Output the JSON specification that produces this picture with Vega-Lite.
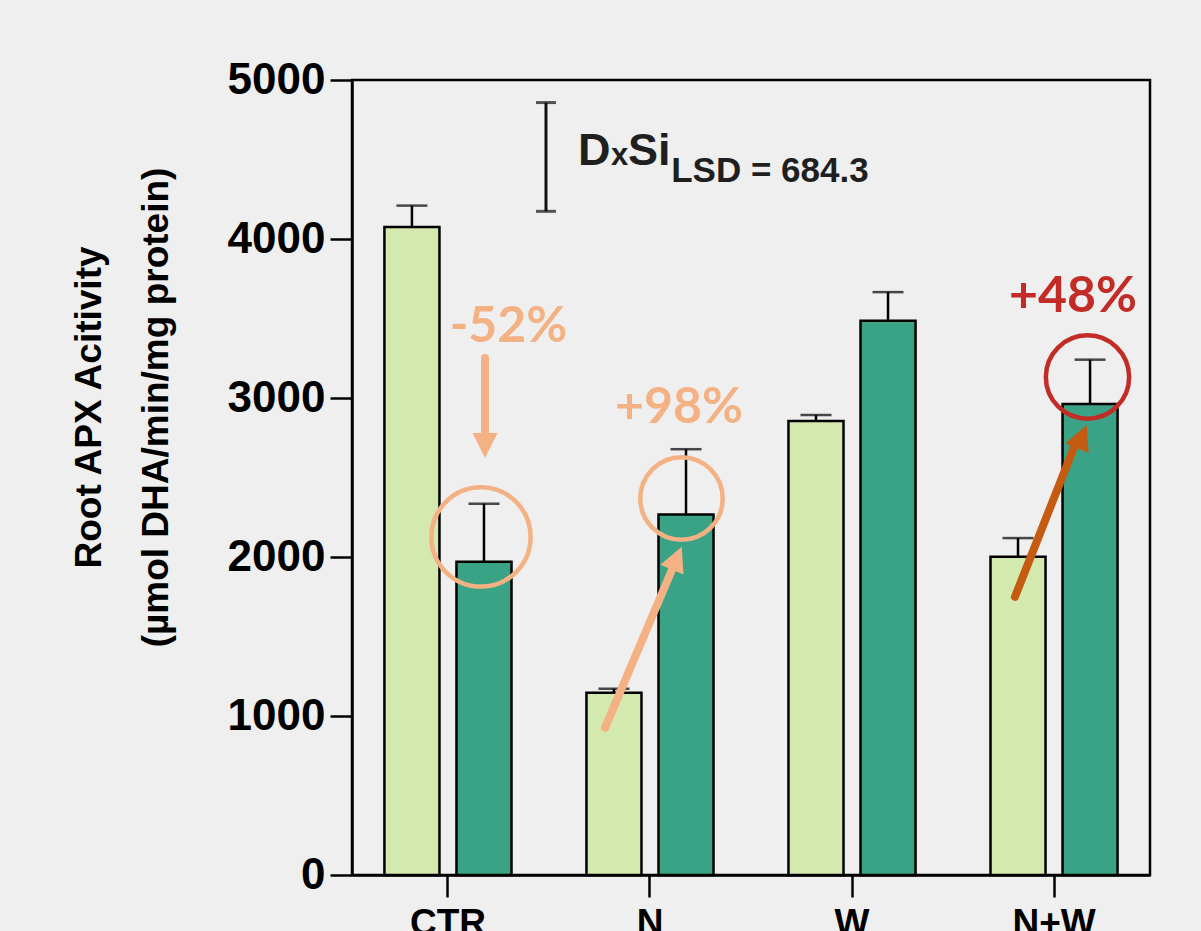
{
  "$schema": "https://vega.github.io/schema/vega-lite/v6.json",
  "width": 798,
  "height": 795,
  "autosize": {"type": "none"},
  "padding": {"left": 352, "top": 80, "right": 51, "bottom": 56},
  "background": "#efefef",
  "config": {
    "view": {"stroke": "#000000", "strokeWidth": 2.5},
    "axis": {
      "domainColor": "#000000", "domainWidth": 2.5,
      "tickColor": "#000000", "tickWidth": 2.5, "tickSize": 22,
      "labelColor": "#000000", "titleColor": "#000000", "grid": false
    }
  },
  "resolve": {"scale": {"x": "independent", "y": "independent"}},
  "layer": [
    {
      "data": {"values": [
        {"group": "CTR", "Si": "-Si", "value": 4075, "hi": 4210},
        {"group": "CTR", "Si": "+Si", "value": 1970, "hi": 2335},
        {"group": "N", "Si": "-Si", "value": 1147, "hi": 1172},
        {"group": "N", "Si": "+Si", "value": 2268, "hi": 2678},
        {"group": "W", "Si": "-Si", "value": 2855, "hi": 2893},
        {"group": "W", "Si": "+Si", "value": 3486, "hi": 3666},
        {"group": "N+W", "Si": "-Si", "value": 2002, "hi": 2119},
        {"group": "N+W", "Si": "+Si", "value": 2962, "hi": 3241}
      ]},
      "encoding": {
        "x": {"field": "group", "type": "nominal", "sort": ["CTR", "N", "W", "N+W"],
          "scale": {"paddingInner": 0.05, "paddingOuter": 0},
          "axis": {"title": null, "labelAngle": 0, "labelFontSize": 37, "labelFont": "Liberation Sans", "labelFontWeight": "bold", "labelPadding": 8}},
        "xOffset": {"field": "Si", "type": "nominal", "sort": ["-Si", "+Si"],
          "scale": {"paddingInner": 0.236, "paddingOuter": 0.45}}
      },
      "layer": [
        {
          "mark": {"type": "bar", "stroke": "#000000", "strokeWidth": 2.5},
          "encoding": {
            "y": {"field": "value", "type": "quantitative",
              "scale": {"domain": [0, 5000], "nice": false},
              "axis": {"values": [0, 1000, 2000, 3000, 4000, 5000], "format": "d",
                "labelFontSize": 44, "labelFont": "Liberation Sans", "labelFontWeight": "bold", "labelPadding": 5,
                "title": ["Root APX Acitivity", "(µmol DHA/min/mg protein)"],
                "titleFont": "Liberation Sans", "titleFontSize": 37, "titleFontWeight": "bold",
                "titleAngle": -90, "titleAlign": "center", "titleBaseline": "alphabetic",
                "titleX": -252, "titleY": 327, "titleLineHeight": 67}},
            "color": {"field": "Si", "type": "nominal",
              "scale": {"domain": ["-Si", "+Si"], "range": ["#D4E9AE", "#3BA385"]}, "legend": null}
          }
        },
        {
          "mark": {"type": "rule", "color": "#000000", "strokeWidth": 2.5},
          "encoding": {
            "y": {"field": "value", "type": "quantitative"},
            "y2": {"field": "hi"}
          }
        },
        {
          "mark": {"type": "tick", "color": "#000000", "thickness": 2.5, "size": 31, "orient": "horizontal"},
          "encoding": {
            "y": {"field": "hi", "type": "quantitative"}
          }
        }
      ]
    },
    {
      "encoding": {
        "x": {"field": "x", "type": "quantitative", "scale": {"domain": [0, 4], "nice": false, "zero": false}, "axis": null},
        "y": {"field": "y", "type": "quantitative", "scale": {"domain": [0, 5000], "nice": false}, "axis": null}
      },
      "layer": [
        {
          "data": {"values": [{"x": 0.9724, "y": 4174, "y2": 4858}]},
          "mark": {"type": "rule", "color": "#111111", "strokeWidth": 3},
          "encoding": {"y2": {"field": "y2"}}
        },
        {
          "data": {"values": [{"x": 0.9724, "y": 4174}, {"x": 0.9724, "y": 4858}]},
          "mark": {"type": "tick", "color": "#111111", "thickness": 3, "size": 20, "orient": "horizontal"}
        },
        {
          "data": {"values": [{"t": "D", "x": 1.1328, "y": 4465}, {"t": "Si", "x": 1.3835, "y": 4465}]},
          "mark": {"type": "text", "align": "left", "baseline": "alphabetic", "font": "Liberation Sans", "fontWeight": "bold", "fontSize": 45, "color": "#1f1f1f"},
          "encoding": {"text": {"field": "t"}}
        },
        {
          "data": {"values": [{"t": "x", "x": 1.2982, "y": 4465}]},
          "mark": {"type": "text", "align": "left", "baseline": "alphabetic", "font": "Liberation Sans", "fontWeight": "bold", "fontSize": 31, "color": "#1f1f1f"},
          "encoding": {"text": {"field": "t"}}
        },
        {
          "data": {"values": [{"t": "LSD = 684.3", "x": 1.6, "y": 4358}]},
          "mark": {"type": "text", "align": "left", "baseline": "alphabetic", "font": "Liberation Sans", "fontWeight": "bold", "fontSize": 35, "color": "#1f1f1f"},
          "encoding": {"text": {"field": "t"}}
        },
        {
          "data": {"values": [{"x": 0.6466, "y": 2126, "s": 9852}]},
          "mark": {"type": "point", "shape": "circle", "filled": false, "stroke": "#F4B183", "strokeWidth": 4.5, "opacity": 1},
          "encoding": {"size": {"field": "s", "type": "quantitative", "scale": null}}
        },
        {
          "data": {"values": [{"x": 1.6516, "y": 2368, "s": 6793}]},
          "mark": {"type": "point", "shape": "circle", "filled": false, "stroke": "#F4B183", "strokeWidth": 4.5, "opacity": 1},
          "encoding": {"size": {"field": "s", "type": "quantitative", "scale": null}}
        },
        {
          "data": {"values": [{"x": 3.6867, "y": 3132, "s": 6940}]},
          "mark": {"type": "point", "shape": "circle", "filled": false, "stroke": "#C22B26", "strokeWidth": 4.5, "opacity": 1},
          "encoding": {"size": {"field": "s", "type": "quantitative", "scale": null}}
        },
        {
          "data": {"values": [{"x": 0.6667, "y": 3252, "x2": 0.6667, "y2": 2736}, {"x": 1.2682, "y": 925, "x2": 1.6140, "y2": 1950}]},
          "mark": {"type": "rule", "color": "#F4B183", "strokeWidth": 8, "strokeCap": "round"},
          "encoding": {"x2": {"field": "x2"}, "y2": {"field": "y2"}}
        },
        {
          "data": {"values": [{"x": 3.3233, "y": 1750, "x2": 3.6266, "y2": 2714}]},
          "mark": {"type": "rule", "color": "#C55A11", "strokeWidth": 8, "strokeCap": "round"},
          "encoding": {"x2": {"field": "x2"}, "y2": {"field": "y2"}}
        },
        {
          "data": {"values": [{"x": 0.6667, "y": 2623}]},
          "mark": {"type": "point", "shape": "M0,0L-1,2L1,2Z", "size": 625, "filled": true, "color": "#F4B183", "opacity": 1, "angle": 180}
        },
        {
          "data": {"values": [{"x": 1.6526, "y": 2065}]},
          "mark": {"type": "point", "shape": "M0,0L-1,2L1,2Z", "size": 625, "filled": true, "color": "#F4B183", "opacity": 1, "angle": 22.9}
        },
        {
          "data": {"values": [{"x": 3.6827, "y": 2830}]},
          "mark": {"type": "point", "shape": "M0,0L-1,2L1,2Z", "size": 625, "filled": true, "color": "#C55A11", "opacity": 1, "angle": 22.7}
        },
        {
          "data": {"values": [{"t": "-52%", "x": 0.7845, "y": 3352}, {"t": "+98%", "x": 1.6391, "y": 2843}]},
          "mark": {"type": "text", "align": "center", "baseline": "alphabetic", "font": "Lato", "fontWeight": "bold", "fontSize": 50, "color": "#F4B183"},
          "encoding": {"text": {"field": "t"}}
        },
        {
          "data": {"values": [{"t": "+48%", "x": 3.6140, "y": 3543}]},
          "mark": {"type": "text", "align": "center", "baseline": "alphabetic", "font": "Lato", "fontWeight": "bold", "fontSize": 50, "color": "#C22B26"},
          "encoding": {"text": {"field": "t"}}
        }
      ]
    }
  ]
}
